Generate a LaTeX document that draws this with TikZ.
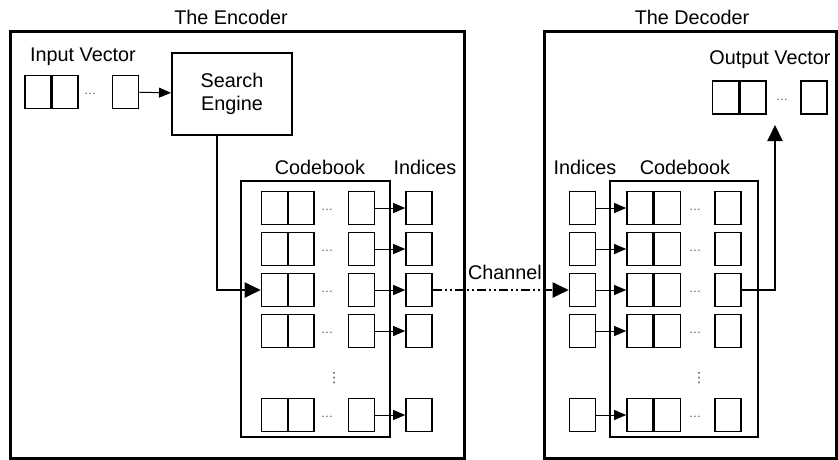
\documentclass[tikz,border=0pt]{standalone}
\usepackage{fontspec}
\setmainfont{Liberation Sans}
\newfontfamily\symfont{DejaVu Sans}
\usetikzlibrary{arrows.meta}

\tikzset{
  cell/.style={draw, line width=1.6pt, minimum width=26pt, minimum height=33pt, inner sep=0pt},
  frame/.style={line width=3pt},
  book/.style={line width=2pt},
  lbl/.style={font=\fontsize{19.8}{23}\selectfont, inner sep=0pt},
  dotsym/.style={font=\fontsize{12}{12}\selectfont, inner sep=0pt, text=black!70},
  vdotsym/.style={font=\symfont\fontsize{14}{14}\selectfont, inner sep=0pt, text=black!70},
  smallarrow/.style={line width=1pt, -{Triangle[length=12pt,width=10pt]}},
  bigarrow/.style={line width=2pt, -{Triangle[length=16pt,width=15pt]}},
}

\begin{document}
\begin{tikzpicture}[x=1pt,y=-1pt]
\useasboundingbox (0,0) rectangle (838,459);

% the two frames
\draw[frame] (10,31) rectangle (464,458);
\draw[frame] (544,31) rectangle (836,458);
\node[lbl] (enctitle) at (231,17) {The Encoder};
\node[lbl] (dectitle) at (692,17) {The Decoder};

% encoder: input vector and search engine
\node[lbl] (invlabel) at (83,57) {Input Vector};
\node[cell] (in1) at (38,92) {};
\node[cell] (in2) at (65,92) {};
\node[dotsym] (indots) at (90,94) {\dots};
\node[cell] (inz) at (125.5,92) {};
\node[draw, line width=2pt, minimum width=120pt, minimum height=82pt, align=center, lbl] (search) at (232,94) {Search\\Engine};
\draw[smallarrow] (inz) -- (search);

% encoder codebook
\draw[book] (241,181) rectangle (390,437);
\node[lbl] (ebooklabel) at (320,167) {Codebook};
\node[lbl] (eidxlabel) at (425,167) {Indices};
\foreach \r/\y in {1/208,2/249,3/290,4/331,5/415} {
  \node[cell] (e\r a) at (274.5,\y) {};
  \node[cell] (e\r b) at (301,\y) {};
  \node[dotsym] (e\r dots) at (327,\y+2) {\dots};
  \node[cell] (e\r z) at (361.5,\y) {};
  \node[cell] (e\r i) at (419,\y) {};
  \draw[smallarrow] (e\r z) -- (e\r i);
}
\node[vdotsym] (evdots) at (334,378) {⋮};
\draw[bigarrow] ([xshift=-15pt]search.south) |- (e3a.west);

% channel
\node[lbl] (chlabel) at (505,272) {Channel};

% decoder codebook
\draw[book] (610,181) rectangle (758,437);
\node[lbl] (didxlabel) at (585,167) {Indices};
\node[lbl] (dbooklabel) at (685,167) {Codebook};
\foreach \r/\y in {1/208,2/249,3/290,4/331,5/415} {
  \node[cell] (d\r i) at (582.5,\y) {};
  \node[cell] (d\r a) at (640,\y) {};
  \node[cell] (d\r b) at (667.5,\y) {};
  \node[dotsym] (d\r dots) at (695,\y+2) {\dots};
  \node[cell] (d\r z) at (728,\y) {};
  \draw[smallarrow] (d\r i) -- (d\r a);
}
\node[vdotsym] (dvdots) at (699,378) {⋮};
\draw[bigarrow, dash pattern=on 9pt off 3pt on 2pt off 3pt on 2pt off 3pt] (e3i) -- (d3i);

% decoder: output vector
\node[lbl] (outvlabel) at (770,60) {Output Vector};
\node[cell] (out1) at (725.5,97.5) {};
\node[cell] (out2) at (753,97.5) {};
\node[dotsym] (outdots) at (782,100) {\dots};
\node[cell] (outz) at (814,97.5) {};
\coordinate (outtip) at (775,125);
\draw[bigarrow] (d3z.east) -| (outtip);
\end{tikzpicture}
\end{document}
